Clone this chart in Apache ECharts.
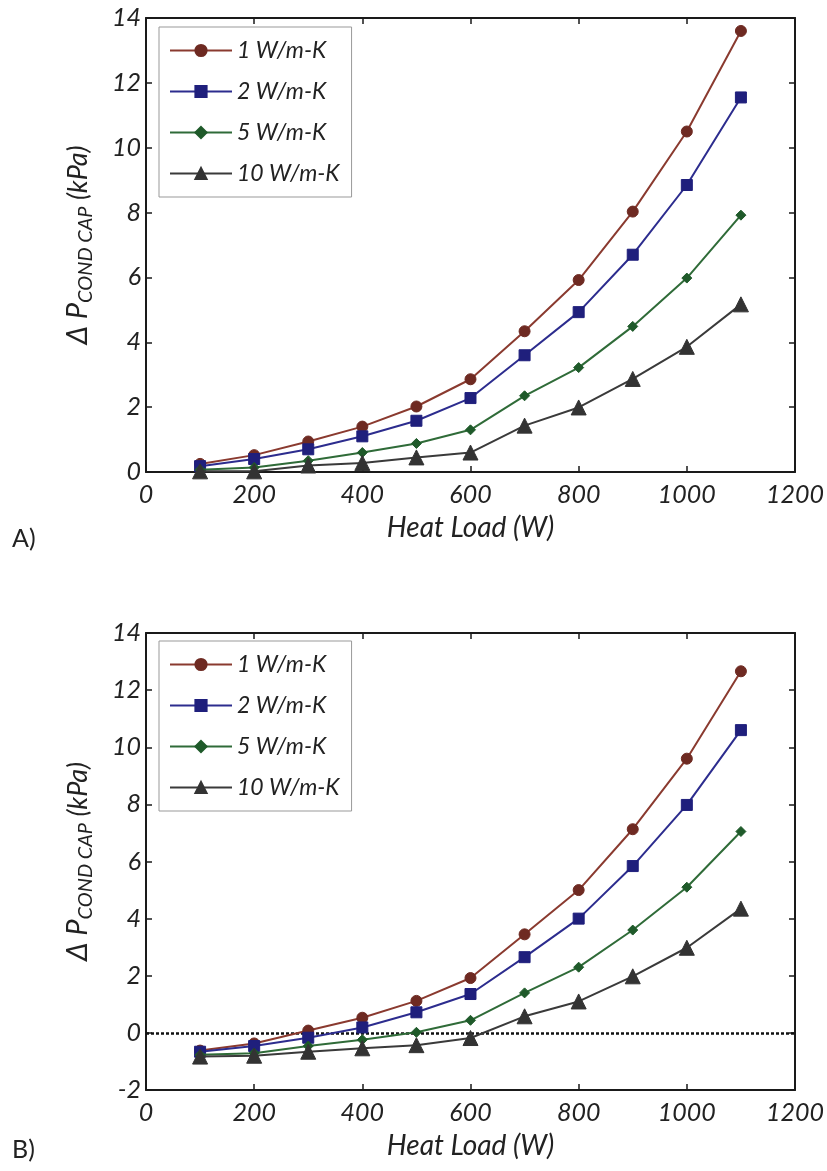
<!DOCTYPE html>
<html>
<head>
<meta charset="utf-8">
<script src="https://cdn.jsdelivr.net/npm/echarts@6/dist/echarts.min.js"></script>
<style>
html,body{margin:0;padding:0;background:#fff;}
#chart{width:827px;height:1171px;}
</style>
</head>
<body>
<div id="chart"></div>
<script>
// ---- data ----
const heatLoad = [100, 200, 300, 400, 500, 600, 700, 800, 900, 1000, 1100];
const seriesNames = ['1 W/m-K', '2 W/m-K', '5 W/m-K', '10 W/m-K'];

// Panel A
const a_k1  = [0.25, 0.52, 0.94, 1.40, 2.02, 2.86, 4.34, 5.92, 8.03, 10.50, 13.60];
const a_k2  = [0.18, 0.40, 0.70, 1.10, 1.58, 2.28, 3.60, 4.93, 6.70, 8.85, 11.55];
const a_k5  = [0.07, 0.14, 0.35, 0.60, 0.88, 1.30, 2.35, 3.22, 4.49, 5.98, 7.92];
const a_k10 = [0.02, 0.02, 0.20, 0.28, 0.45, 0.60, 1.43, 1.99, 2.87, 3.86, 5.17];

// Panel B
const b_k1  = [-0.62, -0.37, 0.08, 0.53, 1.12, 1.92, 3.45, 5.00, 7.13, 9.60, 12.66];
const b_k2  = [-0.66, -0.46, -0.17, 0.19, 0.72, 1.36, 2.65, 4.00, 5.84, 7.98, 10.60];
const b_k5  = [-0.77, -0.71, -0.46, -0.24, 0.02, 0.44, 1.40, 2.30, 3.60, 5.10, 7.05];
const b_k10 = [-0.83, -0.80, -0.66, -0.54, -0.43, -0.18, 0.58, 1.10, 1.98, 2.98, 4.35];

const xTicks = [0, 1200, 200];   // min, max, interval
const yTicksA = [0, 14, 2];
const yTicksB = [-2, 14, 2];
const zeroRef = 0;

// ---- styling ----
const FONT = 'Lato, "Open Sans", sans-serif';
const styles = [
  {line: '#8a3a2f', fill: '#6e2a22', symbol: 'circle', size: 11},
  {line: '#2c2c8e', fill: '#1f1f7c', symbol: 'rect', size: 11},
  {line: '#2f6b38', fill: '#1f5a2a', symbol: 'diamond', size: 10},
  {line: '#3a3a3a', fill: '#333333', symbol: 'triangle', size: 15}
];

const chart = echarts.init(document.getElementById('chart'), null, {renderer: 'canvas'});

function grid(top, height) {
  return {left: 146, right: 19, top: top, height: height, containLabel: false};
}

function xAxes(gi) {
  const base = {
    type: 'value', gridIndex: gi, min: xTicks[0], max: xTicks[1], interval: xTicks[2],
    splitLine: {show: false},
    axisLine: {show: true, onZero: false, lineStyle: {color: '#1a1a1a', width: 2}},
    axisTick: {show: true, inside: true, length: 6, lineStyle: {color: '#1a1a1a', width: 1.5}}
  };
  return [
    Object.assign({}, base, {
      position: 'bottom',
      axisLabel: {show: true, fontFamily: FONT, fontStyle: 'italic', fontSize: 25, color: '#222', margin: 10,
                  formatter: v => String(v)},
      name: 'Heat Load (W)', nameLocation: 'middle', nameGap: 42,
      nameTextStyle: {fontFamily: FONT, fontStyle: 'italic', fontSize: 28, color: '#222'}
    }),
    Object.assign({}, base, {position: 'top', axisLabel: {show: false}})
  ];
}

function yAxes(gi, ticks) {
  const base = {
    type: 'value', gridIndex: gi, min: ticks[0], max: ticks[1], interval: ticks[2],
    splitLine: {show: false},
    axisLine: {show: true, onZero: false, lineStyle: {color: '#1a1a1a', width: 2}},
    axisTick: {show: true, inside: true, length: 6, lineStyle: {color: '#1a1a1a', width: 1.5}}
  };
  return [
    Object.assign({}, base, {
      position: 'left',
      axisLabel: {show: true, fontFamily: FONT, fontStyle: 'italic', fontSize: 25, color: '#222', margin: 5,
                  formatter: v => String(v)},
      name: '{a|Δ P}{b|COND CAP}{c| (kPa)}',
      nameLocation: 'middle', nameRotate: 90, nameGap: 50,
      nameTextStyle: {
        fontFamily: FONT, fontStyle: 'italic', color: '#222',
        rich: {
          a: {fontFamily: FONT, fontStyle: 'italic', fontSize: 29, lineHeight: 36, verticalAlign: 'middle', color: '#222'},
          b: {fontFamily: FONT, fontStyle: 'italic', fontSize: 20, lineHeight: 20, verticalAlign: 'bottom', color: '#222'},
          c: {fontFamily: FONT, fontStyle: 'italic', fontSize: 27, lineHeight: 36, verticalAlign: 'middle', color: '#222'}
        }
      }
    }),
    Object.assign({}, base, {position: 'right', axisLabel: {show: false}})
  ];
}

function makeSeries(axisIdx, arrays, withZero) {
  return arrays.map((arr, i) => {
    const s = {
      name: seriesNames[i], type: 'line',
      xAxisIndex: axisIdx, yAxisIndex: axisIdx,
      data: heatLoad.map((x, j) => [x, arr[j]]),
      symbol: styles[i].symbol, symbolSize: styles[i].size,
      showAllSymbol: true,
      lineStyle: {color: styles[i].line, width: 2},
      itemStyle: {color: styles[i].fill, borderColor: styles[i].fill, borderWidth: 1},
      z: 5 + i,
      animation: false
    };
    if (withZero && i === 0) {
      s.markLine = {
        silent: true, symbol: 'none', animation: false,
        label: {show: false},
        lineStyle: {type: [3, 2], color: '#111', width: 2.5},
        data: [{yAxis: zeroRef}]
      };
    }
    return s;
  });
}

function legend(top) {
  return {
    orient: 'vertical', left: 159, top: top,
    data: seriesNames,
    itemWidth: 62, itemHeight: 14, itemGap: 18,
    padding: [12, 12, 12, 10],
    borderColor: '#999', borderWidth: 1,
    backgroundColor: '#fff',
    textStyle: {fontFamily: FONT, fontStyle: 'italic', fontSize: 23, color: '#222'},
    selectedMode: false
  };
}

const option = {
  animation: false,
  backgroundColor: '#fff',
  grid: [grid(18, 454), grid(633, 457)],
  xAxis: xAxes(0).concat(xAxes(1)),
  yAxis: yAxes(0, yTicksA).concat(yAxes(1, yTicksB)),
  legend: [legend(27), legend(641)],
  series: makeSeries(0, [a_k1, a_k2, a_k5, a_k10], false)
    .concat(makeSeries(2, [b_k1, b_k2, b_k5, b_k10], true)),
  graphic: [
    {type: 'text', left: 12, top: 526, style: {text: 'A)', font: '25px ' + FONT, fill: '#222'}},
    {type: 'text', left: 12, top: 1137, style: {text: 'B)', font: '25px ' + FONT, fill: '#222'}}
  ]
};

chart.setOption(option);
</script>
</body>
</html>
